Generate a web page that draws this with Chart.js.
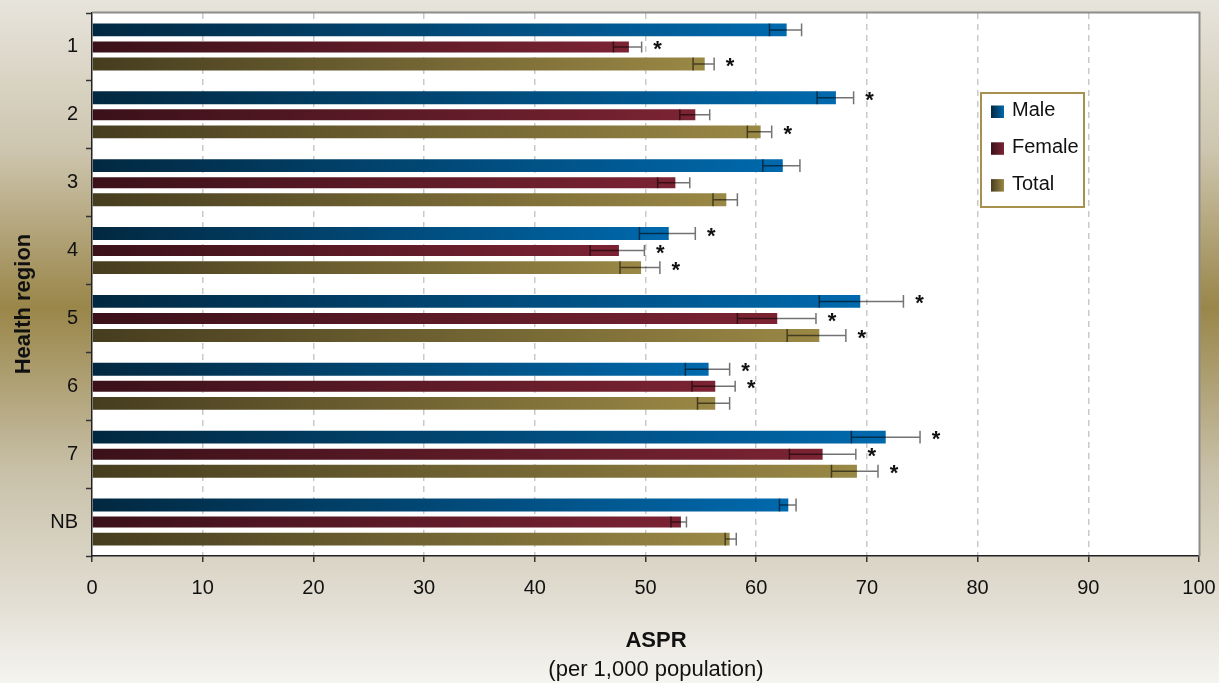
<!DOCTYPE html>
<html>
<head>
<meta charset="utf-8">
<script src="https://cdn.jsdelivr.net/npm/chart.js@4.4.1/dist/chart.umd.min.js"></script>
<style>
  html, body { margin: 0; padding: 0; background: #fff; }
  canvas { display: block; }
</style>
</head>
<body>
<canvas id="chart" width="1219" height="683"></canvas>
<script>
const REGIONS = ["1", "2", "3", "4", "5", "6", "7", "NB"]

const MALE = [62.75, 67.2, 62.4, 52.1, 69.4, 55.7, 71.7, 62.9]
const MALE_LOW = [61.2, 65.5, 60.6, 49.45, 65.7, 53.6, 68.6, 62.1]
const MALE_HIGH = [64.1, 68.8, 63.95, 54.5, 73.3, 57.6, 74.8, 63.6]
const MALE_SIG = [0, 1, 0, 1, 1, 1, 1, 0]

const FEMALE = [48.5, 54.5, 52.7, 47.6, 61.9, 56.3, 66.0, 53.2]
const FEMALE_LOW = [47.1, 53.1, 51.1, 45.0, 58.3, 54.2, 63.0, 52.3]
const FEMALE_HIGH = [49.65, 55.8, 54.0, 49.9, 65.4, 58.1, 69.0, 53.7]
const FEMALE_SIG = [1, 0, 0, 1, 1, 1, 1, 0]

const TOTAL = [55.35, 60.4, 57.3, 49.6, 65.7, 56.3, 69.1, 57.6]
const TOTAL_LOW = [54.3, 59.2, 56.1, 47.7, 62.8, 54.7, 66.8, 57.2]
const TOTAL_HIGH = [56.2, 61.4, 58.3, 51.3, 68.1, 57.6, 71.0, 58.2]
const TOTAL_SIG = [1, 1, 0, 1, 1, 0, 1, 0]

const X_TICKS = [0, 10, 20, 30, 40, 50, 60, 70, 80, 90, 100]

const FONT = '"Liberation Sans", Arial, sans-serif'

const COLORS = {
    male: ["#022840", "#0069ad"],
    female: ["#3b1119", "#7b2333"],
    total: ["#463d1f", "#9a8845"],
}

// gradient along each bar, dark at 0 and light at its end
function barGradient(pair) {
    return (ctx) => {
        const chart = ctx.chart
        if (!chart.chartArea || !chart.scales.x || ctx.raw == null) return pair[1]
        const x = chart.scales.x
        const x0 = x.getPixelForValue(0)
        const x1 = x.getPixelForValue(ctx.raw)
        const g = chart.ctx.createLinearGradient(x0, 0, Math.max(x1, x0 + 1), 0)
        g.addColorStop(0, pair[0])
        g.addColorStop(1, pair[1])
        return g
    }
}

const ERRORS = [
    { low: MALE_LOW, high: MALE_HIGH, sig: MALE_SIG },
    { low: FEMALE_LOW, high: FEMALE_HIGH, sig: FEMALE_SIG },
    { low: TOTAL_LOW, high: TOTAL_HIGH, sig: TOTAL_SIG },
]

const decorPlugin = {
    id: "decor",
    beforeDraw(chart) {
        const { ctx, chartArea: a, width, height } = chart
        ctx.save()
        const bg = ctx.createLinearGradient(0, 0, 0, height)
        bg.addColorStop(0, "#e7e4dc")
        bg.addColorStop(0.22, "#cdc5ae")
        bg.addColorStop(0.45, "#9a8649")
        bg.addColorStop(0.69, "#c8c0a8")
        bg.addColorStop(0.88, "#e2ded3")
        bg.addColorStop(1, "#f5f4f0")
        ctx.fillStyle = bg
        ctx.fillRect(0, 0, width, height)
        ctx.fillStyle = "#ffffff"
        ctx.fillRect(a.left, a.top, a.right - a.left, a.bottom - a.top)
        ctx.restore()
    },
    afterDatasetsDraw(chart) {
        const { ctx } = chart
        const x = chart.scales.x
        ctx.save()
        ERRORS.forEach((err, di) => {
            const meta = chart.getDatasetMeta(di)
            meta.data.forEach((bar, i) => {
                const xl = x.getPixelForValue(err.low[i])
                const xh = x.getPixelForValue(err.high[i])
                const half = bar.height / 2
                ctx.strokeStyle = "rgba(0,0,0,0.55)"
                ctx.lineWidth = 1.5
                ctx.beginPath()
                ctx.moveTo(xl, bar.y)
                ctx.lineTo(xh, bar.y)
                ctx.moveTo(xl, bar.y - half)
                ctx.lineTo(xl, bar.y + half)
                ctx.moveTo(xh, bar.y - half)
                ctx.lineTo(xh, bar.y + half)
                ctx.stroke()
                if (err.sig[i]) {
                    ctx.fillStyle = "#111"
                    ctx.font = "bold 22px " + FONT
                    ctx.textAlign = "center"
                    ctx.textBaseline = "middle"
                    ctx.fillText("*", xh + 16, bar.y + 3)
                }
            })
        })
        ctx.restore()
    },
    afterDraw(chart) {
        const { ctx, chartArea: a } = chart
        ctx.save()
        // top and right frame of the plot area
        ctx.strokeStyle = "#8c8c8c"
        ctx.lineWidth = 2
        ctx.beginPath()
        ctx.moveTo(a.left, a.top - 0.5)
        ctx.lineTo(a.right + 0.5, a.top - 0.5)
        ctx.lineTo(a.right + 0.5, a.bottom)
        ctx.stroke()

        // legend box
        const lx = 981, ly = 93, lw = 103, lh = 114
        ctx.fillStyle = "#ffffff"
        ctx.fillRect(lx, ly, lw, lh)
        ctx.strokeStyle = "#a8904f"
        ctx.lineWidth = 2
        ctx.strokeRect(lx, ly, lw, lh)
        const items = [["Male", COLORS.male], ["Female", COLORS.female], ["Total", COLORS.total]]
        items.forEach((it, k) => {
            const cy = 111.5 + k * 36.8
            const g = ctx.createLinearGradient(991, 0, 1004, 0)
            g.addColorStop(0, it[1][0])
            g.addColorStop(1, it[1][1])
            ctx.fillStyle = g
            ctx.fillRect(991, cy - 6, 13, 12.5)
            ctx.fillStyle = "#111"
            ctx.font = "20px " + FONT
            ctx.textAlign = "left"
            ctx.textBaseline = "middle"
            ctx.fillText(it[0], 1012, cy - 1)
        })

        // axis titles
        ctx.fillStyle = "#111"
        ctx.textAlign = "center"
        ctx.textBaseline = "middle"
        ctx.font = "bold 22px " + FONT
        ctx.fillText("ASPR", 656, 641)
        ctx.font = "22px " + FONT
        ctx.fillText("(per 1,000 population)", 656, 670)

        ctx.translate(24, 304)
        ctx.rotate(-Math.PI / 2)
        ctx.font = "bold 22px " + FONT
        ctx.fillText("Health region", 0, 0)
        ctx.restore()
    },
}

new Chart(document.getElementById("chart"), {
    type: "bar",
    plugins: [decorPlugin],
    data: {
        labels: REGIONS,
        datasets: [
            { label: "Male", data: MALE, backgroundColor: barGradient(COLORS.male), barPercentage: 0.75 },
            { label: "Female", data: FEMALE, backgroundColor: barGradient(COLORS.female), barPercentage: 0.64 },
            { label: "Total", data: TOTAL, backgroundColor: barGradient(COLORS.total), barPercentage: 0.75 },
        ],
    },
    options: {
        indexAxis: "y",
        responsive: false,
        animation: false,
        layout: { padding: { top: 13, right: 20, left: 0, bottom: 0 } },
        datasets: { bar: { categoryPercentage: 0.754, borderWidth: 0 } },
        plugins: {
            legend: { display: false },
            tooltip: { enabled: false },
        },
        scales: {
            x: {
                min: 0,
                max: 100,
                afterBuildTicks: (scale) => { scale.ticks = X_TICKS.map((v) => ({ value: v })) },
                afterFit: (scale) => {
                    scale.height = 127
                    scale.paddingLeft = 0
                    scale.paddingRight = 0
                },
                ticks: { color: "#111", font: { family: FONT, size: 20 }, padding: 14, maxRotation: 0 },
                grid: {
                    color: (c) => (c.tick && (c.tick.value === 0 || c.tick.value === 100) ? "rgba(0,0,0,0)" : "#c9c9c9"),
                    lineWidth: 1.5,
                    tickColor: "#333",
                    tickBorderDash: [],
                    tickWidth: 1.5,
                    tickLength: 6,
                },
                border: { color: "#222", width: 1.5, dash: [6, 5] },
            },
            y: {
                afterFit: (scale) => {
                    scale.width = 92
                    scale.paddingTop = 0
                    scale.paddingBottom = 0
                },
                ticks: { color: "#111", font: { family: FONT, size: 20 }, padding: 8 },
                grid: {
                    offset: true,
                    drawOnChartArea: false,
                    tickLength: 6,
                    tickColor: "#333",
                    tickWidth: 1.5,
                },
                border: { color: "#222", width: 1.5 },
            },
        },
    },
})
</script>
</body>
</html>
